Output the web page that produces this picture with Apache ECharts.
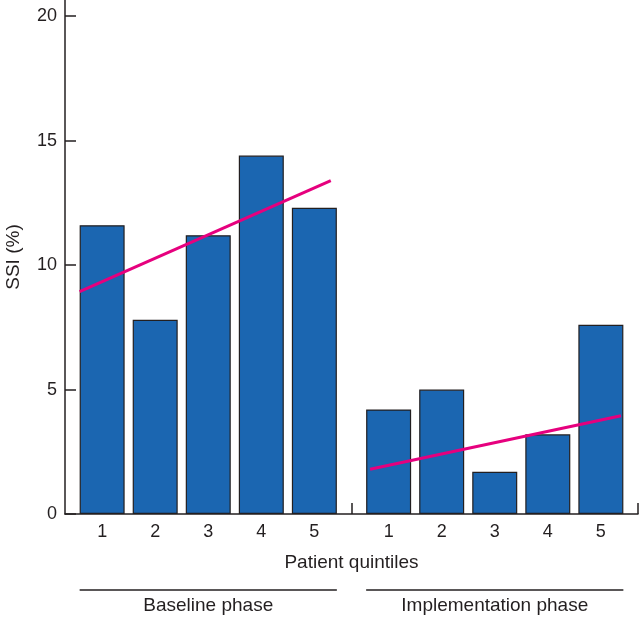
<!DOCTYPE html>
<html>
<head>
<meta charset="utf-8">
<script src="https://cdn.jsdelivr.net/npm/echarts@6/dist/echarts.min.js"></script>
<style>
html,body{margin:0;padding:0;background:#fff;}
#c{width:639px;height:617px;}
</style>
</head>
<body>
<div id="c"></div>
<script>
// ---- data ----
const quintileLabels = ['1', '2', '3', '4', '5'];
const phaseNames = ['Baseline phase', 'Implementation phase'];
const baselineSSI = [11.6, 7.8, 11.2, 14.4, 12.3];
const implementationSSI = [4.2, 5.0, 1.7, 3.2, 7.6];
// trend lines: [x, y] end points (x in quintile position units)
const baselineTrend = [[0.575, 8.93], [5.31, 13.39]];
const implementationTrend = [[6.05, 1.8], [10.78, 3.95]];
const yTicks = [0, 5, 10, 15, 20];

// ---- layout ----
const baselinePos = quintileLabels.map((_, i) => 1 + i);
const implOffset = 6.4;
const implementationPos = quintileLabels.map((_, i) => implOffset + i);
const separatorTicks = [5.7, 11.1];
const BAR_W = 45;
const FONT = "'Liberation Sans', Arial, Helvetica, sans-serif";
const INK = '#231f20';
const BLUE = '#1b66b1';
const MAGENTA = '#e6007e';

const allPos = baselinePos.concat(implementationPos);
const allLabels = quintileLabels.concat(quintileLabels);

const chart = echarts.init(document.getElementById('c'));
const option = {
  animation: false,
  backgroundColor: '#fff',
  grid: { left: 65, right: 1, top: 0, bottom: 103, containLabel: false, outerBoundsMode: 'none' },
  xAxis: {
    type: 'value',
    min: 0.3,
    max: 11.1,
    name: 'Patient quintiles',
    nameLocation: 'middle',
    nameGap: 39,
    nameTextStyle: { fontFamily: FONT, fontSize: 19, color: INK },
    axisLine: { show: true, lineStyle: { color: INK, width: 1.5 } },
    axisTick: { show: true, inside: true, length: 11, customValues: separatorTicks, lineStyle: { color: INK, width: 1.5 } },
    axisLabel: {
      show: true, margin: 9, fontFamily: FONT, fontSize: 18, color: INK,
      customValues: allPos,
      formatter: function (v) {
        for (let i = 0; i < allPos.length; i++) {
          if (Math.abs(allPos[i] - v) < 1e-6) return allLabels[i];
        }
        return '';
      }
    },
    splitLine: { show: false }
  },
  yAxis: {
    type: 'value',
    min: 0,
    max: 20.65,
    name: 'SSI (%)',
    nameLocation: 'middle',
    nameGap: 42,
    nameTextStyle: { fontFamily: FONT, fontSize: 19, color: INK },
    axisLine: { show: true, lineStyle: { color: INK, width: 1.5 } },
    axisTick: { show: true, inside: true, length: 11, customValues: yTicks, lineStyle: { color: INK, width: 1.5 } },
    axisLabel: { show: true, margin: 8, fontFamily: FONT, fontSize: 18, color: INK, customValues: yTicks },
    splitLine: { show: false }
  },
  series: [
    {
      type: 'bar', barWidth: BAR_W,
      data: baselineSSI.map((v, i) => [baselinePos[i], v]),
      itemStyle: { color: BLUE, borderColor: INK, borderWidth: 1.2 }
    },
    {
      type: 'bar', barWidth: BAR_W, barGap: '-100%',
      data: implementationSSI.map((v, i) => [implementationPos[i], v]),
      itemStyle: { color: BLUE, borderColor: INK, borderWidth: 1.2 }
    },
    {
      type: 'line', data: baselineTrend, symbol: 'none',
      lineStyle: { color: MAGENTA, width: 3 }, z: 5
    },
    {
      type: 'line', data: implementationTrend, symbol: 'none',
      lineStyle: { color: MAGENTA, width: 3 }, z: 5
    }
  ]
};
chart.setOption(option);

// phase brackets below the axis, positioned through the chart's own scale
function px(x) { return chart.convertToPixel({ xAxisIndex: 0 }, x); }
const groups = [baselinePos, implementationPos];
const graphics = [];
groups.forEach((pos, gi) => {
  const x0 = px(pos[0]) - BAR_W / 2;
  const x1 = px(pos[pos.length - 1]) + BAR_W / 2;
  graphics.push({
    type: 'line', shape: { x1: x0, y1: 590, x2: x1, y2: 590 },
    style: { stroke: INK, lineWidth: 1.5 }
  });
  graphics.push({
    type: 'text', x: (x0 + x1) / 2, y: 606,
    style: { text: phaseNames[gi], fontFamily: FONT, fontSize: 19, fill: INK, align: 'center', verticalAlign: 'middle' }
  });
});
chart.setOption({ graphic: graphics });
</script>
</body>
</html>
